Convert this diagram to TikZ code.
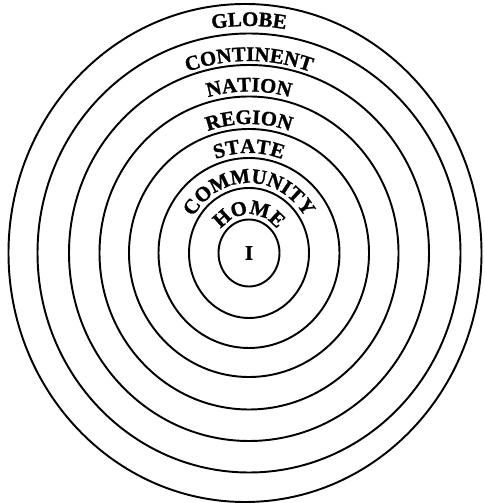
\documentclass[tikz,border=0pt]{standalone}
\usepackage{fontspec}
\setmainfont{Liberation Serif}
\newfontfamily\ringfamily{Liberation Serif Bold}[FakeBold=1.2]
\usetikzlibrary{decorations.text}
\newcommand{\bandfont}{\ringfamily\fontsize{11.8}{13}\selectfont}
\tikzset{
  ring/.style={draw=black,line width=1.1pt},
  band/.style={decorate,decoration={text along path,text align=center,
               text={|\bandfont|#1}}},
  centre/.style={font=\bandfont,inner sep=0pt}
}

\begin{document}
\begin{tikzpicture}[x=0.2mm,y=0.2mm]
  \useasboundingbox (0,0) rectangle (484,503);
  \coordinate (ctr) at (249,250);
  \coordinate (outer) at (245,250);

  % rings, inside out
  \draw[ring] (ctr) ellipse [x radius=30.5,y radius=33.5];
  \draw[ring] (ctr) ellipse [x radius=60,y radius=65];
  \draw[ring] (ctr) ellipse [x radius=90.5,y radius=95];
  \draw[ring] (ctr) ellipse [x radius=120,y radius=124];
  \draw[ring] (ctr) ellipse [x radius=149.5,y radius=156.5];
  \draw[ring] (ctr) ellipse [x radius=180,y radius=188];
  \draw[ring] (ctr) ellipse [x radius=211.5,y radius=219.5];
  \draw[ring] (outer) ellipse [x radius=236.5,y radius=249];

  \node[centre] (self) at (ctr) {I};

  % labels along the top of each band
  \path[band=HOME] (ctr) ++(170:35.5 and 38.5)
    arc[start angle=170,end angle=10,x radius=35.5,y radius=38.5];
  \path[band=COMMUNITY] (ctr) ++(170:65 and 70)
    arc[start angle=170,end angle=10,x radius=65,y radius=70];
  \path[band=STATE] (ctr) ++(170:95.5 and 100)
    arc[start angle=170,end angle=10,x radius=95.5,y radius=100];
  \path[band=REGION] (ctr) ++(170:125 and 129)
    arc[start angle=170,end angle=10,x radius=125,y radius=129];
  \path[band=NATION] (ctr) ++(170:154.5 and 161.5)
    arc[start angle=170,end angle=10,x radius=154.5,y radius=161.5];
  \path[band=CONTINENT] (ctr) ++(170:185 and 192)
    arc[start angle=170,end angle=10,x radius=185,y radius=192];
  \path[band=GLOBE] (ctr) ++(170:219 and 227)
    arc[start angle=170,end angle=10,x radius=219,y radius=227];
\end{tikzpicture}
\end{document}
